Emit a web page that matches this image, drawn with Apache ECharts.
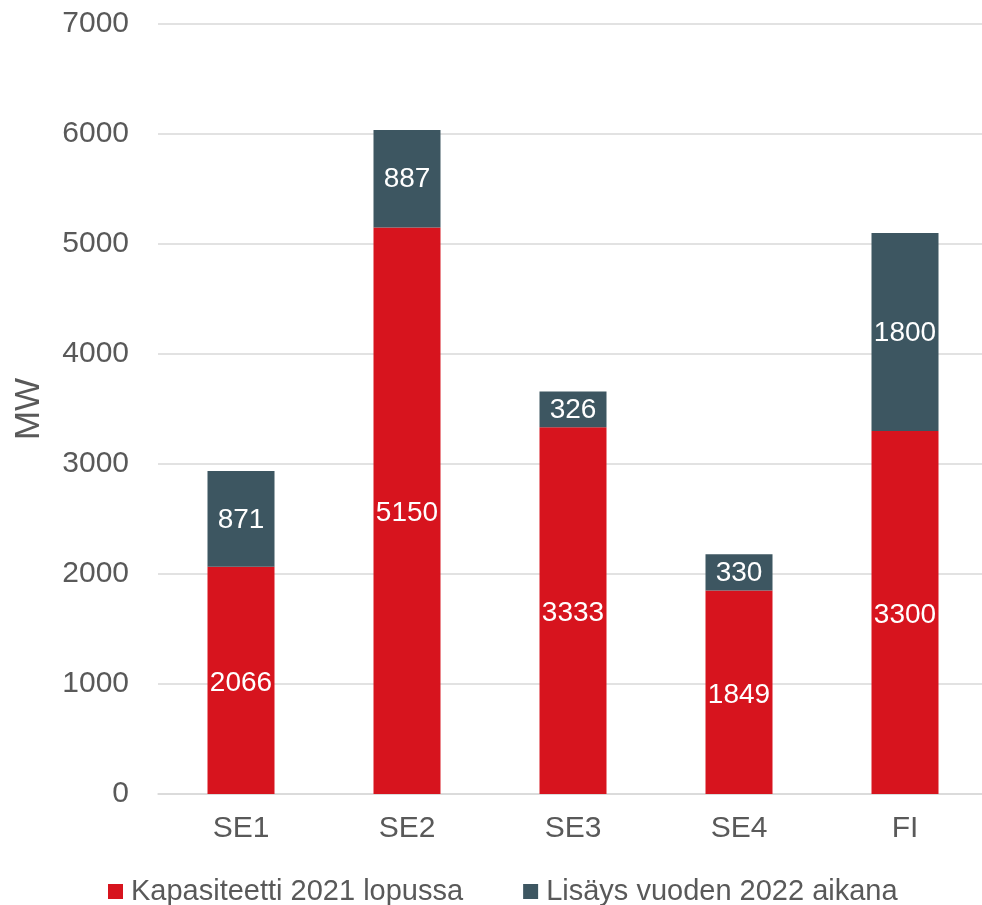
<!DOCTYPE html>
<html><head><meta charset="utf-8">
<script src="https://cdn.jsdelivr.net/npm/echarts@6/dist/echarts.min.js"></script>
<style>html,body{margin:0;padding:0;background:#fff;overflow:hidden}#c{width:990px;height:905px}</style>
</head><body><div id="c"></div>
<script>
const categories = ['SE1','SE2','SE3','SE4','FI'];
const capacity2021 = [2066, 5150, 3333, 1849, 3300];
const added2022 = [871, 887, 326, 330, 1800];
const seriesNames = ['Kapasiteetti 2021 lopussa','Lisäys vuoden 2022 aikana'];
const font = 'Liberation Sans, Arial, sans-serif';
const chart = echarts.init(document.getElementById('c'), null, {renderer:'canvas'});
chart.setOption({
  animation:false,
  textStyle:{fontFamily:font},
  grid:{left:158,right:2,top:24,bottom:111,containLabel:false},
  legend:{top:872,left:103,itemWidth:15,itemHeight:15,itemGap:60,icon:'rect',
    textStyle:{fontSize:29,color:'#595959',fontFamily:font,padding:[0,0,0,3]},
    data:seriesNames},
  xAxis:{type:'category',data:categories,
    axisLine:{lineStyle:{color:'#d9d9d9',width:1.5}},axisTick:{show:false},
    axisLabel:{fontSize:30,color:'#595959',margin:20,fontFamily:font}},
  yAxis:{type:'value',min:0,max:7000,interval:1000,name:'MW',nameLocation:'middle',nameGap:111,
    nameTextStyle:{fontSize:35,color:'#595959',fontFamily:font},
    axisLine:{show:false},axisTick:{show:false},
    splitLine:{lineStyle:{color:'#d9d9d9',width:1.5}},
    axisLabel:{fontSize:30,color:'#595959',margin:29,fontFamily:font,formatter:v=>String(v)}},
  series:[
    {name:seriesNames[0],type:'bar',stack:'a',data:capacity2021,barWidth:67,
     itemStyle:{color:'#D7141E'},
     label:{show:true,position:'inside',offset:[0,3],color:'#fff',fontSize:28,fontFamily:font}},
    {name:seriesNames[1],type:'bar',stack:'a',data:added2022,barWidth:67,
     itemStyle:{color:'#3D5661'},
     label:{show:true,position:'inside',offset:[0,1],color:'#fff',fontSize:28,fontFamily:font}}
  ]
});
</script></body></html>
